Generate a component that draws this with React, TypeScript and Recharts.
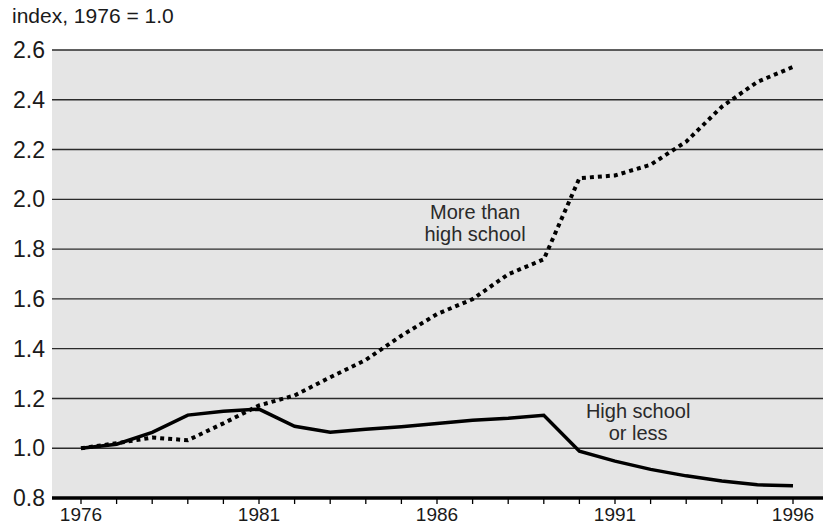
import React from "react"
import { LineChart, Line, XAxis, YAxis, CartesianGrid, ReferenceDot } from "recharts"

const years = [1976, 1977, 1978, 1979, 1980, 1981, 1982, 1983, 1984, 1985, 1986, 1987, 1988, 1989, 1990, 1991, 1992, 1993, 1994, 1995, 1996]
const highSchoolOrLess = [1.0, 1.016, 1.064, 1.133, 1.149, 1.157, 1.088, 1.064, 1.076, 1.086, 1.099, 1.112, 1.12, 1.132, 0.988, 0.948, 0.915, 0.889, 0.868, 0.853, 0.849]
const moreThanHighSchool = [1.0, 1.02, 1.043, 1.032, 1.1, 1.172, 1.212, 1.285, 1.355, 1.452, 1.539, 1.599, 1.699, 1.759, 2.085, 2.096, 2.139, 2.232, 2.372, 2.472, 2.532]
const yTicks = [0.8, 1.0, 1.2, 1.4, 1.6, 1.8, 2.0, 2.2, 2.4, 2.6]
const labeledYears = [1976, 1981, 1986, 1991, 1996]

// annotation anchors in data units: [year, value of first baseline]
const moreLabel = { x: 1987.07, y: 1.92, lines: ["More than", "high school"] }
const lessLabel = { x: 1991.65, y: 1.12, lines: ["High school", "or less"] }

const data = years.map((year, i) => ({
  year,
  less: highSchoolOrLess[i],
  more: moreThanHighSchool[i],
}))

const FONT = "'Liberation Sans', Arial, Helvetica, sans-serif"

function TwoLineLabel(lines: string[]) {
  return (props: any) => {
    const { cx, cy } = props
    return (
      <text x={cx} y={cy} textAnchor="middle" fontFamily={FONT} fontSize={20} fill="#2a2a2a">
        {lines.map((l, i) => (
          <tspan key={i} x={cx} dy={i === 0 ? 0 : 22}>
            {l}
          </tspan>
        ))}
      </text>
    )
  }
}

export default function App() {
  return (
    <div style={{ position: "absolute", left: 0, top: 0, width: 823, height: 527, background: "#fff", fontFamily: FONT }}>
      <div style={{ position: "absolute", left: 12, top: 4, fontSize: 21, lineHeight: "24px", color: "#1a1a1a", whiteSpace: "nowrap" }}>
        index, 1976 = 1.0
      </div>
      <LineChart width={823} height={527} data={data} margin={{ top: 50, right: 0, bottom: 0, left: 0 }}>
        <CartesianGrid vertical={false} fill="#e5e5e5" stroke="#2b2b2b" strokeWidth={1.4} fillOpacity={1} />
        <XAxis
          dataKey="year"
          type="number"
          domain={[1976, 1996]}
          ticks={years}
          padding={{ left: 29, right: 30 }}
          height={29}
          axisLine={{ stroke: "#000", strokeWidth: 3.5 }}
          tickLine={{ stroke: "#000", strokeWidth: 1.3 }}
          tickSize={6}
          tickMargin={4}
          interval={0}
          tickFormatter={(v: number) => (labeledYears.includes(v) ? String(v) : "")}
          tick={{ fill: "#1a1a1a", fontSize: 19, fontFamily: FONT }}
        />
        <YAxis
          type="number"
          domain={[0.8, 2.6]}
          ticks={yTicks}
          width={52}
          axisLine={false}
          tickLine={false}
          tickSize={0}
          tickMargin={7}
          interval={0}
          tickFormatter={(v: number) => v.toFixed(1)}
          tick={{ fill: "#1a1a1a", fontSize: 23, fontFamily: FONT }}
        />
        <Line
          dataKey="more"
          type="linear"
          stroke="#000"
          strokeWidth={4}
          strokeDasharray="4 4"
          dot={false}
          isAnimationActive={false}
        />
        <Line
          dataKey="less"
          type="linear"
          stroke="#000"
          strokeWidth={3.5}
          dot={false}
          isAnimationActive={false}
        />
        <ReferenceDot x={moreLabel.x} y={moreLabel.y} r={0} shape={TwoLineLabel(moreLabel.lines)} />
        <ReferenceDot x={lessLabel.x} y={lessLabel.y} r={0} shape={TwoLineLabel(lessLabel.lines)} />
      </LineChart>
    </div>
  )
}
